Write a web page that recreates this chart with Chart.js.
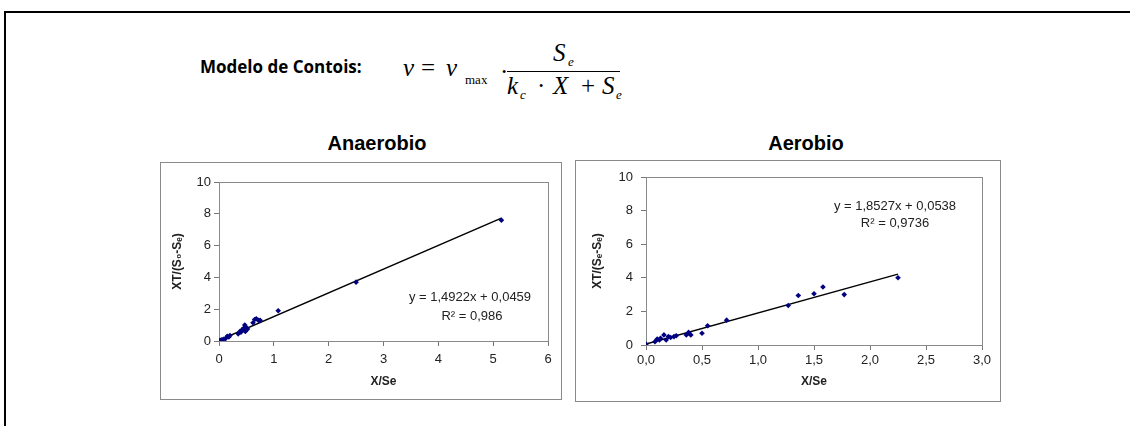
<!DOCTYPE html>
<html>
<head>
<meta charset="utf-8">
<script src="https://cdn.jsdelivr.net/npm/chart.js@4.4.1/dist/chart.umd.min.js"></script>
<style>
  body { margin: 0; width: 1130px; height: 426px; background: #fff; position: relative; overflow: hidden;
         font-family: "Liberation Sans", Arial, sans-serif; }
  .abs { position: absolute; white-space: nowrap; }
  .m { font-family: "Liberation Serif", "Times New Roman", serif; font-style: italic; font-size: 25px; line-height: 24px; }
  .up { font-style: normal; }
  .sub { font-family: "Liberation Serif", "Times New Roman", serif; font-size: 13px; line-height: 13px; }
  .box { position: absolute; border: 1px solid #8a8a8a; }
  .box canvas { display: block; }
  .ttl { position: absolute; font-weight: bold; font-size: 20px; line-height: 20px; transform: translateX(-50%); }
</style>
</head>
<body>
<!-- marco negro -->
<div class="abs" style="left:4px;top:11px;width:1126px;height:2px;background:#000"></div>
<div class="abs" style="left:4px;top:11px;width:2px;height:415px;background:#000"></div>

<!-- texto del modelo -->
<div class="abs" style="left:200px;top:58px;font-family:'Open Sans',sans-serif;font-weight:bold;font-size:17px;line-height:17px">Modelo de Contois:</div>

<div class="abs m" style="left:403px;top:56px">v</div>
<div class="abs m up" style="left:421px;top:56px">=</div>
<div class="abs m" style="left:446px;top:56px">v</div>
<div class="abs sub" style="left:465px;top:73px">max</div>
<div class="abs m up" style="left:500px;top:60px">·</div>
<div class="abs" style="left:507px;top:71px;width:113px;height:1px;background:#000"></div>
<div class="abs m" style="left:553px;top:41px">S</div>
<div class="abs sub" style="left:568px;top:55px;font-style:italic">e</div>
<div class="abs m" style="left:507px;top:74px">k</div>
<div class="abs sub" style="left:520px;top:88px;font-style:italic">c</div>
<div class="abs m up" style="left:537px;top:74px">·</div>
<div class="abs m" style="left:553px;top:74px">X</div>
<div class="abs m up" style="left:581px;top:74px">+</div>
<div class="abs m" style="left:602px;top:74px">S</div>
<div class="abs sub" style="left:616px;top:88px;font-style:italic">e</div>

<!-- títulos -->
<div class="ttl" style="left:377px;top:133px">Anaerobio</div>
<div class="ttl" style="left:806px;top:133px">Aerobio</div>

<div class="box" style="left:160px;top:162px;width:400px;height:236px"><canvas id="anaeCanvas" width="400" height="236"></canvas></div>
<div class="box" style="left:575px;top:160px;width:424px;height:240px"><canvas id="aeroCanvas" width="424" height="240"></canvas></div>

<script>
const anaeX = [0.02, 0.05, 0.08, 0.12, 0.15, 0.18, 0.2, 0.35, 0.38, 0.4, 0.42, 0.45, 0.47, 0.48, 0.5, 0.52, 0.62, 0.65, 0.68, 0.72, 0.75, 1.08, 2.5, 5.15];
const anaeY = [0.05, 0.08, 0.1, 0.15, 0.3, 0.25, 0.35, 0.45, 0.6, 0.55, 0.7, 0.8, 1.0, 0.6, 0.85, 0.75, 1.15, 1.35, 1.4, 1.3, 1.3, 1.9, 3.7, 7.6];
const anaeSlope = 1.4922, anaeIntercept = 0.0459;
const anaeTrendX = [0, 5.15];
const anaeEq = ['y = 1,4922x + 0,0459', 'R² = 0,986'];
const anaeXTicks = [0, 1, 2, 3, 4, 5, 6];

const aeroX = [0.0, 0.08, 0.1, 0.12, 0.13, 0.16, 0.18, 0.2, 0.22, 0.25, 0.27, 0.36, 0.38, 0.4, 0.5, 0.55, 0.72, 1.27, 1.36, 1.5, 1.58, 1.77, 2.25];
const aeroY = [0.05, 0.2, 0.35, 0.3, 0.4, 0.6, 0.3, 0.5, 0.45, 0.5, 0.55, 0.6, 0.75, 0.6, 0.7, 1.15, 1.48, 2.35, 2.95, 3.05, 3.45, 3.0, 4.0];
const aeroSlope = 1.8527, aeroIntercept = 0.0538;
const aeroTrendX = [0, 2.25];
const aeroEq = ['y = 1,8527x + 0,0538', 'R² = 0,9736'];
const aeroXTicks = ['0,0', '0,5', '1,0', '1,5', '2,0', '2,5', '3,0'];

const yTicks = [0, 2, 4, 6, 8, 10];

// marco del área de trazado + texto de la ecuación
const plotFrame = {
    id: 'plotFrame',
    beforeDatasetsDraw(chart, args, opts) {
        let a = chart.chartArea, ctx = chart.ctx;
        ctx.save();
        ctx.strokeStyle = '#8a8a8a';
        ctx.lineWidth = 1;
        ctx.strokeRect(Math.round(a.left) + 0.5, Math.round(a.top) + 0.5, a.right - a.left, a.bottom - a.top);
        ctx.restore();
    },
    afterDraw(chart, args, opts) {
        let a = chart.chartArea, ctx = chart.ctx;
        ctx.save();
        ctx.fillStyle = '#222';
        ctx.font = '13px "Liberation Sans", Arial, sans-serif';
        ctx.textAlign = 'center';
        ctx.textBaseline = 'middle';
        opts.lines.forEach(function(l, i) {
            ctx.fillText(l, a.left + opts.pos[i][0], a.top + opts.pos[i][1]);
        });
        ctx.restore();
    }
};

function buildChart(id, c) {
    let pts = c.xs.map(function(x, i) { return { x: x, y: c.ys[i] }; });
    let trend = c.trendX.map(function(x) { return { x: x, y: c.slope * x + c.intercept }; });
    return new Chart(document.getElementById(id).getContext('2d'), {
        type: 'scatter',
        data: {
            datasets: [{
                data: pts,
                pointStyle: 'rectRot',
                pointRadius: 2.8,
                backgroundColor: '#000080',
                borderColor: '#000080',
                borderWidth: 0
            }, {
                type: 'line',
                data: trend,
                showLine: true,
                borderColor: '#000',
                borderWidth: 1.4,
                pointRadius: 0,
                fill: false
            }]
        },
        options: {
            responsive: false,
            animation: false,
            layout: { padding: { top: c.top, right: c.right, left: 0, bottom: 0 } },
            plugins: {
                legend: { display: false },
                tooltip: { enabled: false },
                plotFrame: { lines: c.eq, pos: c.eqPos }
            },
            scales: {
                x: {
                    type: 'linear', min: 0, max: c.xMax,
                    afterBuildTicks: function(s) { s.ticks = c.xTicks.map(function(t, i) { return { value: i * c.xStep }; }); },
                    ticks: {
                        color: '#222', padding: c.xPad, maxRotation: 0, autoSkip: false,
                        font: { family: '"Liberation Sans", Arial', size: 13 },
                        callback: function(v, i) { return c.xTicks[i]; }
                    },
                    grid: { drawOnChartArea: false, tickLength: 5, color: '#777' },
                    border: { color: '#777' },
                    title: { display: true, text: 'X/Se', color: '#222',
                             font: { family: '"Liberation Sans", Arial', size: 12, weight: 'bold' },
                             padding: { top: 0, bottom: c.xTitlePad } },
                    afterFit: function(s) { s.height = c.bottom; }
                },
                y: {
                    type: 'linear', min: 0, max: 10,
                    afterBuildTicks: function(s) { s.ticks = yTicks.map(function(t) { return { value: t }; }); },
                    ticks: { color: '#222', padding: c.yPad, font: { family: '"Liberation Sans", Arial', size: 13 } },
                    grid: { drawOnChartArea: false, tickLength: 5, color: '#777' },
                    border: { color: '#777' },
                    title: { display: true, text: c.yTitle, color: '#222',
                             font: { family: '"Liberation Sans", Arial', size: 12, weight: 'bold' },
                             padding: { top: c.yTitlePad, bottom: 0 } },
                    afterFit: function(s) { s.width = c.leftW; }
                }
            }
        },
        plugins: [plotFrame]
    });
}

buildChart('anaeCanvas', {
    xs: anaeX, ys: anaeY, slope: anaeSlope, intercept: anaeIntercept, trendX: anaeTrendX,
    eq: anaeEq, eqPos: [[251, 115], [253, 134]],
    xMax: 6, xStep: 1, xTicks: anaeXTicks, yTitle: 'XT/(S₀-Sₑ)',
    top: 19, right: 13, bottom: 58, leftW: 58,
    xPad: 6, xTitlePad: 10, yPad: 3, yTitlePad: 9
});

buildChart('aeroCanvas', {
    xs: aeroX, ys: aeroY, slope: aeroSlope, intercept: aeroIntercept, trendX: aeroTrendX,
    eq: aeroEq, eqPos: [[249, 29], [249, 46]],
    xMax: 3, xStep: 0.5, xTicks: aeroXTicks, yTitle: 'XT/(Sₑ-Sₑ)',
    top: 16, right: 18, bottom: 56, leftW: 70,
    xPad: 3, xTitlePad: 12, yPad: 8, yTitlePad: 14
});
</script>
</body>
</html>
